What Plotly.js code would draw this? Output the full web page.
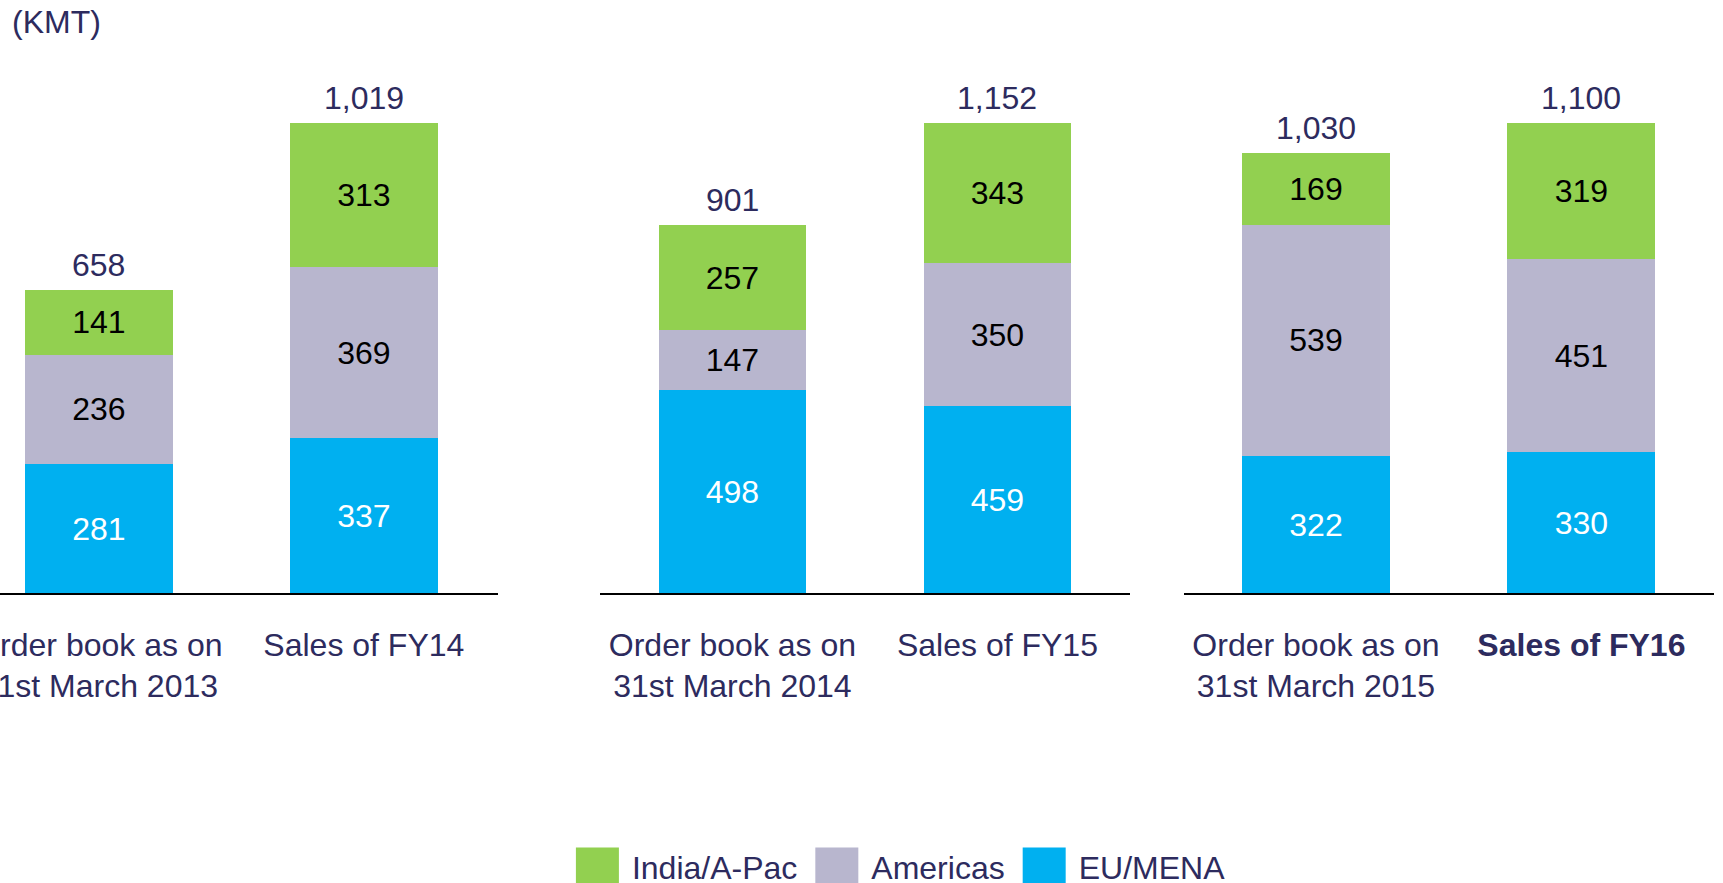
<!DOCTYPE html>
<html><head><meta charset="utf-8">
<script src="https://cdn.plot.ly/plotly-3.0.1.min.js"></script>
<style>html,body{margin:0;padding:0;background:#fff;} #chart{width:1723px;height:883px;}</style>
</head><body><div id="chart"></div>
<script>
// ---- data ----
const categories = [
  "Order book as on<br>31st March 2013", "Sales of FY14",
  "Order book as on<br>31st March 2014", "Sales of FY15",
  "Order book as on<br>31st March 2015", "<b>Sales of FY16</b>"
];
const panelOf = [0, 0, 1, 1, 2, 2];
const euMena    = [281, 337, 498, 459, 322, 330];
const americas  = [236, 369, 147, 350, 539, 451];
const indiaApac = [141, 313, 257, 343, 169, 319];
const totalLabels = ["658", "1,019", "901", "1,152", "1,030", "1,100"];
const seriesNames = ["EU/MENA", "Americas", "India/A-Pac"];
const unitLabel = "(KMT)";

// ---- styles ----
const FONT = "Liberation Sans, Arial, sans-serif";
const NAVY = "#2D2B5E";
const style = {
  colors: ["#00B0F0", "#B8B6CE", "#92D050"],
  textColors: ["#FFFFFF", "#000000", "#000000"],
  fontSize: 32
};
const xDomains = [[0, 0.2890], [0.3482, 0.6558], [0.6869, 0.9950]];
const xRanges = [[-0.373, 1.506], [-0.5, 1.5], [-0.499, 1.501]];
const yDomain = [0.3280, 0.8607];

const series = [euMena, americas, indiaApac];
const traces = [];
const layout = {
  width: 1723, height: 883,
  margin: {l: 0, r: 0, t: 0, b: 0, autoexpand: false},
  paper_bgcolor: "#ffffff", plot_bgcolor: "#ffffff",
  barmode: "stack",
  font: {family: FONT, color: NAVY, size: style.fontSize},
  showlegend: true,
  legend: {
    orientation: "h", traceorder: "reversed",
    x: 0.3267, xanchor: "left", y: 0.0185, yanchor: "middle",
    font: {family: FONT, size: 32, color: NAVY},
    itemwidth: 59, bgcolor: "rgba(0,0,0,0)"
  },
  hovermode: false,
  annotations: []
};

for (let p = 0; p < 3; p++) {
  const idx = panelOf.map((v, i) => v === p ? i : -1).filter(i => i >= 0);
  const sfx = p === 0 ? "" : String(p + 1);
  const xs = idx.map(i => categories[i]);
  series.forEach((vals, s) => {
    traces.push({
      type: "bar",
      x: xs, y: idx.map(i => vals[i]),
      xaxis: "x" + sfx, yaxis: "y" + sfx,
      name: seriesNames[s], legendgroup: seriesNames[s], showlegend: p === 0,
      marker: {color: style.colors[s], line: {width: 0}},
      width: 0.557,
      text: idx.map(i => String(vals[i])),
      textposition: "inside", insidetextanchor: "middle", textangle: 0,
      constraintext: "none",
      textfont: {family: FONT, size: style.fontSize, color: style.textColors[s]},
      hoverinfo: "skip", cliponaxis: false
    });
  });
  const sums = idx.map(i => euMena[i] + americas[i] + indiaApac[i]);
  layout["xaxis" + sfx] = {
    domain: xDomains[p], anchor: "y" + sfx, type: "category",
    range: xRanges[p], showgrid: false, zeroline: false,
    showline: true, linecolor: "#000000", linewidth: 2,
    ticks: "", ticklabelstandoff: 22,
    tickfont: {family: FONT, size: style.fontSize, color: NAVY},
    fixedrange: true
  };
  layout["yaxis" + sfx] = {
    domain: yDomain, anchor: "x" + sfx,
    range: [0, Math.max(...sums)],
    showgrid: false, zeroline: false, showline: false, showticklabels: false,
    fixedrange: true
  };
  idx.forEach((i, k) => {
    layout.annotations.push({
      xref: "x" + sfx, yref: "y" + sfx, x: categories[i], y: sums[k],
      text: totalLabels[i], showarrow: false, yanchor: "bottom", yshift: 5,
      font: {family: FONT, size: style.fontSize, color: NAVY}
    });
  });
}
layout.annotations.push({
  xref: "paper", yref: "paper", x: 10 / 1723, y: 1 - 22 / 883,
  xanchor: "left", yanchor: "middle", showarrow: false,
  text: unitLabel, font: {family: FONT, size: 32, color: NAVY}
});

Plotly.newPlot("chart", traces, layout, {displayModeBar: false, staticPlot: true}).then(gd => {
  // enlarge legend swatches to match the reference
  gd.querySelectorAll(".legend .legendpoints path").forEach(p => {
    p.setAttribute("d", "M21.5,24H-21.5V-19H21.5Z");
  });
});
</script>
</body></html>
